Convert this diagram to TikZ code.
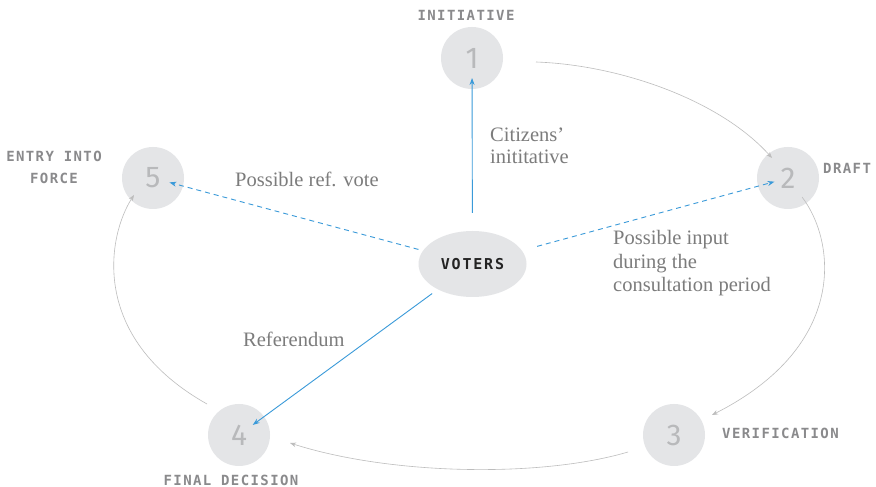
\documentclass[tikz,border=0pt]{standalone}
\usepackage{fontspec}
\setmainfont{Liberation Serif}
\newfontfamily\capfont{DejaVu Sans Mono}[LetterSpace=10]
\newfontfamily\votfont{DejaVu Sans Mono}[LetterSpace=12]
\newfontfamily\numfont{Fira Sans}
\usetikzlibrary{arrows.meta,calc,shapes.geometric}
\definecolor{discfill}{HTML}{E4E5E7}
\definecolor{numgray}{HTML}{B8B9BB}
\definecolor{capgray}{HTML}{8A8A8C}
\definecolor{lblgray}{HTML}{7C7C7C}
\definecolor{flowgray}{HTML}{BDBDBD}
\definecolor{vblue}{HTML}{3A9AD9}
\definecolor{votertext}{HTML}{232323}
\begin{document}
\begin{tikzpicture}[x=1pt,y=1pt,
  disc/.style={circle, fill=discfill, minimum size=62pt, inner sep=0pt,
    font=\numfont\fontsize{30}{30}\selectfont, text=numgray},
  caplbl/.style={font=\capfont\bfseries\fontsize{14}{22}\selectfont, text=capgray,
    inner sep=0pt, align=center},
  lbl/.style={text=lblgray, inner sep=0pt},
  flow/.style={draw=flowgray, line width=0.6pt, -{Stealth[length=6pt,width=4.5pt]}},
  voter/.style={draw=vblue, line width=0.9pt, -{Stealth[length=7pt,width=5pt]}},
  vdash/.style={voter, dash pattern=on 5pt off 4pt}]
\path[use as bounding box, fill=white] (0,0) rectangle (876,487);

% discs
\node[disc] (c1) at (472,429) {1};
\node[disc] (c2) at (788,309) {2};
\node[disc] (c3) at (674,52) {3};
\node[disc] (c4) at (239,52) {4};
\node[disc] (c5) at (153,309) {5};
\node[ellipse, fill=discfill, minimum width=108pt, minimum height=66pt, inner sep=0pt,
  font=\votfont\bfseries\fontsize{15}{15}\selectfont, text=votertext] (voters) at (472.5,223) {VOTERS};

% stage labels
\node[caplbl] (t1) at (466,472) {INITIATIVE};
\node[caplbl, anchor=west] (t2) at (823,319) {DRAFT};
\node[caplbl, anchor=west] (t3) at (722,54) {VERIFICATION};
\node[caplbl] (t4) at (231,7) {FINAL DECISION};
\node[caplbl] (t5) at (54,320) {ENTRY INTO\\FORCE};

% serif labels
\node[lbl, anchor=base west, font=\fontsize{20.5}{21.5}\selectfont] (l1) at (490,345)
  {\begin{tabular}[t]{@{}l@{}}Citizens'\\inititative\end{tabular}};
\node[lbl, anchor=base west, font=\fontsize{20.5}{23}\selectfont] (l2) at (235,300) {Possible ref. vote};
\node[lbl, anchor=base west, font=\fontsize{20.5}{23.5}\selectfont] (l3) at (613,242)
  {\begin{tabular}[t]{@{}l@{}}Possible input\\during the\\consultation period\end{tabular}};
\node[lbl, anchor=base west, font=\fontsize{20.5}{23}\selectfont] (l4) at (243,140) {Referendum};

% cycle connectors
\coordinate (f1s) at ($(c1.center)+(64,-4)$);
\coordinate (f1e) at ($(c2.center)+(-16,20)$);
\coordinate (f2s) at ($(c2.center)+(14,-19)$);
\coordinate (f2e) at ($(c3.center)+(38,20)$);
\coordinate (f3s) at ($(c3.center)+(-46,-17)$);
\coordinate (f3e) at ($(c4.center)+(51,-8)$);
\coordinate (f4s) at ($(c4.center)+(-32,31)$);
\coordinate (f4e) at ($(c5.center)+(-19,-17)$);
\draw[flow] (f1s) .. controls (620,422) and (720,387) .. (f1e);
\draw[flow] (f2s) .. controls (835,247) and (850,142) .. (f2e);
\draw[flow] (f3s) .. controls (540,9) and (390,12) .. (f3e);
\draw[flow] (f4s) .. controls (88,150) and (108,252) .. (f4e);

% voter connectors
\draw[voter, shorten <=51pt, shorten >=20pt] (voters.center) -- (c1.center);
\draw[vdash, shorten <=56pt, shorten >=17pt] (voters.center) -- (c5.center);
\draw[vdash, shorten <=67pt, shorten >=14pt] (voters.center) -- (c2.center);
\draw[voter, shorten <=50pt, shorten >=17pt] (voters.center) -- (c4.center);
\end{tikzpicture}
\end{document}
